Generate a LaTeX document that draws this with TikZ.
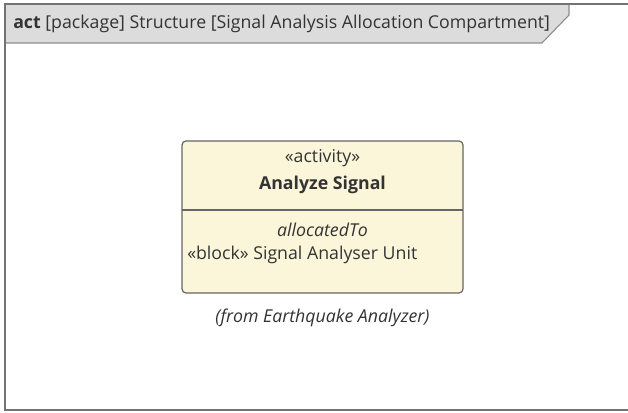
\documentclass[tikz,border=0pt]{standalone}
\usepackage{fontspec}
\setmainfont{Open Sans}
\begin{document}
\begin{tikzpicture}[x=0.75pt,y=-0.75pt,
  frameline/.style={draw=black!55,line width=1.5pt},
  txt/.style={inner sep=0pt,font=\fontsize{13.3}{16}\selectfont,text=black!80},
  box/.style={draw=black!60,line width=0.9pt,fill=yellowbox,rounded corners=3pt}]
\definecolor{yellowbox}{HTML}{FBF6DA}
\definecolor{tabgray}{HTML}{DCDCDC}
\useasboundingbox (0,0) rectangle (628,413);
\fill[white] (0,0) rectangle (628,413);
% frame
\fill[tabgray] (5,4) -- (569,4) -- (569,15) -- (542,43) -- (5,43) -- cycle;
\draw[draw=black!45,line width=0.8pt] (569,4) -- (569,15) -- (542,43) -- (5,43);
\draw[frameline] (630,4) -- (5,4) -- (5,410) -- (630,410);
\node[txt,anchor=west] (title) at (13,24) {\textbf{act} [package] Structure [Signal Analysis Allocation Compartment]};
% activity box
\draw[box] (182,141) rectangle (463,293);
\draw[draw=black!60,line width=0.9pt] (182,210) -- (463,210);
\node[txt] (st) at (322.5,158) {«activity»};
\node[txt,font=\fontsize{13.3}{16}\selectfont\bfseries] (nm) at (322.5,185) {Analyze Signal};
\node[txt,font=\fontsize{13.3}{16}\selectfont\itshape] (al) at (322.5,230) {allocatedTo};
\node[txt,anchor=west] (bl) at (187,255) {«block» Signal Analyser Unit};
\node[txt,font=\fontsize{13.3}{16}\selectfont\itshape] (fr) at (322.5,318) {(from Earthquake Analyzer)};
\end{tikzpicture}
\end{document}
